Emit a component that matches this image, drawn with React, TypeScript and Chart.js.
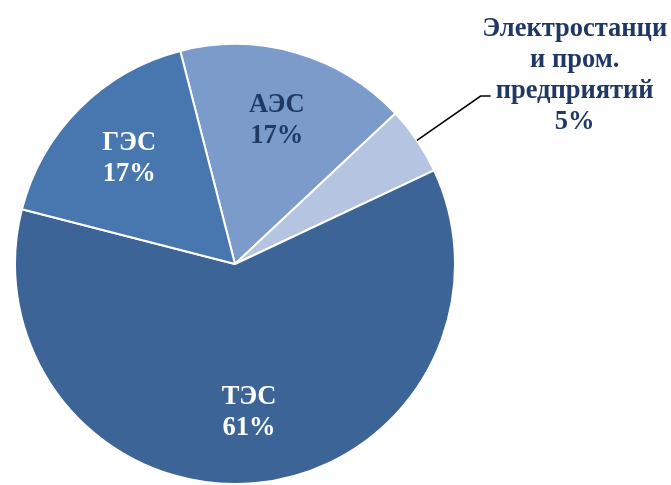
import React, { useEffect, useRef } from "react";
import { Chart, registerables } from "chart.js";

Chart.register(...registerables);

const categories = ["АЭС", "Электростанции и пром. предприятий", "ТЭС", "ГЭС"];
const labelLines = [["АЭС"], ["Электростанци", "и пром.", "предприятий"], ["ТЭС"], ["ГЭС"]];
const values = [17, 5, 61, 17];
const colors = ["#7B9BCB", "#B4C4E1", "#3D6496", "#4877B0"];
const labelColors = ["#1F3864", "#1F3864", "#FFFFFF", "#FFFFFF"];
const outsideIndex = 1;

const FONT = "bold 26.5px 'Liberation Serif', 'Times New Roman', serif";
const LINE_H = 31;

const labelPlugin = {
  id: "pieLabels",
  afterDatasetsDraw(chart: any) {
    const ctx = chart.ctx;
    const meta = chart.getDatasetMeta(0);
    const total = values.reduce((a, b) => a + b, 0);
    ctx.save();
    ctx.font = FONT;
    ctx.textAlign = "center";
    ctx.textBaseline = "middle";
    meta.data.forEach((arc: any, i: number) => {
      const { x, y, startAngle, endAngle, outerRadius } = arc.getProps(
        ["x", "y", "startAngle", "endAngle", "outerRadius"],
        true
      );
      const mid = (startAngle + endAngle) / 2;
      const pct = Math.round((values[i] / total) * 100) + "%";
      const lines = [...labelLines[i], pct];
      ctx.fillStyle = labelColors[i];
      if (i === outsideIndex) {
        const sx = x + Math.cos(mid) * outerRadius;
        const sy = y + Math.sin(mid) * outerRadius;
        const ex = x + Math.cos(mid) * outerRadius * 1.35;
        const ey = y + Math.sin(mid) * outerRadius * 1.35 - 1;
        ctx.strokeStyle = "#000000";
        ctx.lineWidth = 1.5;
        ctx.beginPath();
        ctx.moveTo(sx, sy);
        ctx.lineTo(ex, ey);
        ctx.lineTo(ex + 10, ey);
        ctx.stroke();
        const cx = ex + 94;
        const cy = ey - 20;
        const n = lines.length;
        lines.forEach((t, k) => {
          ctx.fillText(t, cx, cy + (k - (n - 1) / 2) * LINE_H);
        });
      } else {
        const r = outerRadius * 0.68;
        const cx = x + Math.cos(mid) * r;
        const cy = y + Math.sin(mid) * r;
        const n = lines.length;
        lines.forEach((t, k) => {
          ctx.fillText(t, cx, cy + (k - (n - 1) / 2) * LINE_H);
        });
      }
    });
    ctx.restore();
  },
};

export default function App() {
  const ref = useRef<HTMLCanvasElement>(null);
  useEffect(() => {
    if (!ref.current) return;
    const chart = new Chart(ref.current, {
      type: "pie",
      data: {
        labels: categories,
        datasets: [
          {
            data: values,
            backgroundColor: colors,
            borderColor: "#FFFFFF",
            borderWidth: 2,
          },
        ],
      },
      options: {
        responsive: false,
        animation: false,
        rotation: -14.4,
        layout: { padding: { left: 13, top: 43, right: 214, bottom: 0 } },
        plugins: {
          legend: { display: false },
          tooltip: { enabled: false },
        },
      },
      plugins: [labelPlugin],
    });
    return () => chart.destroy();
  }, []);
  return (
    <div style={{ position: "fixed", left: 0, top: 0, width: 671, height: 485, background: "#fff" }}>
      <canvas ref={ref} width={671} height={485} />
    </div>
  );
}
